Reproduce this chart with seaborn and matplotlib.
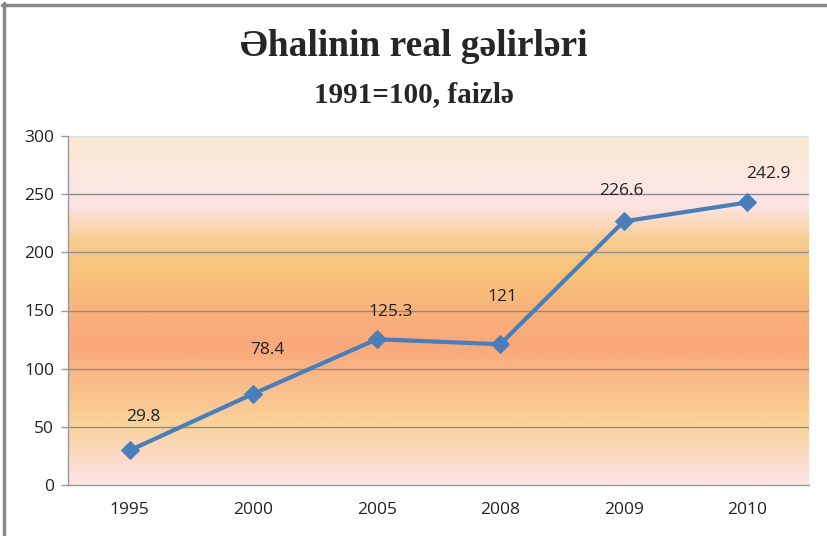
import numpy as np
import pandas as pd
import seaborn as sns
import matplotlib.pyplot as plt
from matplotlib.colors import LinearSegmentedColormap
from matplotlib.lines import Line2D

years = ["1995", "2000", "2005", "2008", "2009", "2010"]
values = [29.8, 78.4, 125.3, 121, 226.6, 242.9]
value_labels = ["29.8", "78.4", "125.3", "121", "226.6", "242.9"]
y_ticks = [0, 50, 100, 150, 200, 250, 300]

# label offsets in pixels (dx, dy) from each point
label_offsets = [(14, 33), (14, 44), (14, 27), (2, 47), (-2, 30), (21, 28)]

sns.set_style("white")
plt.rcParams['font.family'] = ['Open Sans', 'DejaVu Sans']

fig = plt.figure(figsize=(8.27, 5.36), dpi=100)
ax = fig.add_axes([68 / 827, 51 / 536, 741 / 827, 349 / 536])

# background gradient
grad_cmap = LinearSegmentedColormap.from_list("bg", [
    (0.00, "#FCE4E8"),
    (0.08, "#FBDAC5"),
    (0.17, "#F9D39A"),
    (0.33, "#F9B585"),
    (0.40, "#F9A87A"),
    (0.48, "#F9B07C"),
    (0.62, "#F9C47A"),
    (0.70, "#F8CC90"),
    (0.80, "#FDE4E4"),
    (0.86, "#FDE6E4"),
    (1.00, "#FBE9D0"),
])
grad = np.linspace(0, 1, 256).reshape(-1, 1)
ax.imshow(grad, extent=[-0.5, 5.5, 0, 300], origin="lower", aspect="auto",
          cmap=grad_cmap, zorder=0)

df = pd.DataFrame({"pos": np.arange(len(years)), "value": values})
sns.lineplot(data=df, x="pos", y="value", ax=ax, color="#4A7EBB", linewidth=3,
             marker="D", markersize=9, markeredgecolor="#4A7EBB", zorder=3)

for i, (v, lab) in enumerate(zip(values, value_labels)):
    dx, dy = label_offsets[i]
    ax.annotate(lab, (i, v), xytext=(dx, dy), textcoords="offset pixels",
                ha="center", va="center", fontsize=12.5, color="#222222", zorder=4)

ax.set_xlim(-0.5, 5.5)
ax.set_ylim(0, 300)
ax.set_yticks(y_ticks)
ax.set_yticklabels([str(t) for t in y_ticks])
ax.set_xticks(np.arange(len(years)))
ax.set_xticklabels(years)
ax.set_xticks(np.arange(-0.5, 6, 1), minor=True)
ax.tick_params(axis="x", which="major", length=0, pad=12, labelsize=12.5, labelcolor="#222222")
ax.tick_params(axis="x", which="minor", length=5, color="#999999", width=1, direction="out")
ax.tick_params(axis="y", length=5, color="#999999", width=1, direction="out",
               labelsize=12.5, labelcolor="#222222", pad=5, left=True)
for t in y_ticks[1:-1]:
    ax.axhline(t, color="#8C8C8C", linewidth=1, zorder=1)
ax.axhline(300, color="#E0E0E0", linewidth=1, zorder=1)
ax.set_xlabel("")
ax.set_ylabel("")
for s in ["top", "right"]:
    ax.spines[s].set_visible(False)
for s in ["left", "bottom"]:
    ax.spines[s].set_color("#999999")
    ax.spines[s].set_linewidth(1)

fig.text(0.5, 1 - 46 / 536, "Əhalinin real gəlirləri", ha="center", va="center",
         fontsize=27, fontweight="bold", family=["Liberation Serif", "DejaVu Serif"])
fig.text(0.5, 1 - 95 / 536, "1991=100, faizlə", ha="center", va="center",
         fontsize=21, fontweight="bold", family=["Liberation Serif", "DejaVu Serif"])

# outer frame (only top and left visible)
fig.add_artist(Line2D([3.5 / 827, 3.5 / 827], [0, 1 - 3 / 536], transform=fig.transFigure,
                      color="#888888", linewidth=2.5))
fig.add_artist(Line2D([2 / 827, 1], [1 - 4.5 / 536, 1 - 4.5 / 536], transform=fig.transFigure,
                      color="#888888", linewidth=2.5))

fig.savefig("out.png", dpi=100)
